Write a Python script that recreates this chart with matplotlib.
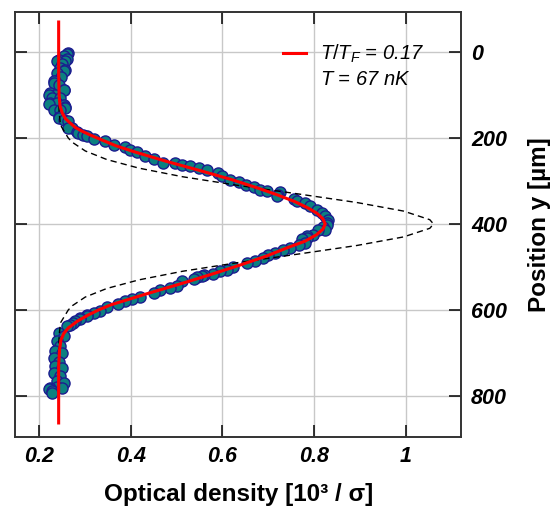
import numpy as np
import matplotlib
matplotlib.use('Agg')
import matplotlib.pyplot as plt
from matplotlib.lines import Line2D

plt.rcParams['font.family'] = ['Liberation Sans', 'DejaVu Sans']
plt.rcParams['mathtext.fontset'] = 'custom'
plt.rcParams['mathtext.it'] = 'Liberation Sans:italic'
plt.rcParams['mathtext.rm'] = 'Liberation Sans'

# measured points: position y [um] and optical density
pos_data = [2, 4, 10, 16, 18, 20, 20, 27, 37, 41, 45, 49, 57, 68, 68, 72, 76, 88, 89,
            95, 99, 99, 107, 107, 119, 119, 120, 123, 128, 130, 134, 134, 150, 154,
            157, 161, 177, 177, 185, 188, 192, 195, 202, 208, 216, 221, 227, 233, 241,
            249, 257, 258, 262, 266, 270, 274, 281, 289, 297, 302, 309, 314, 320, 324,
            326, 332, 336, 342, 347, 351, 359, 367, 374, 382, 390, 398, 402, 406, 413,
            413, 425, 429, 433, 435, 444, 448, 456, 460, 467, 471, 479, 487, 491, 499,
            506, 510, 516, 518, 520, 523, 528, 533, 545, 549, 553, 560, 570, 574, 580,
            585, 592, 603, 607, 611, 615, 619, 621, 626, 630, 634, 638, 654, 661, 673,
            685, 696, 700, 712, 720, 731, 735, 747, 754, 766, 770, 779, 781, 781, 785,
            789, 793]
od_data = [0.264, 0.262, 0.254, 0.261, 0.243, 0.257, 0.239, 0.250, 0.246, 0.257, 0.254,
           0.239, 0.248, 0.236, 0.232, 0.232, 0.243, 0.254, 0.254, 0.225, 0.236, 0.221,
           0.228, 0.246, 0.225, 0.239, 0.221, 0.254, 0.257, 0.257, 0.232, 0.246, 0.243,
           0.243, 0.254, 0.264, 0.272, 0.264, 0.283, 0.286, 0.297, 0.305, 0.319, 0.344,
           0.363, 0.388, 0.399, 0.413, 0.432, 0.450, 0.471, 0.497, 0.512, 0.530, 0.548,
           0.566, 0.591, 0.599, 0.617, 0.637, 0.652, 0.669, 0.682, 0.697, 0.726, 0.721,
           0.719, 0.755, 0.762, 0.780, 0.791, 0.806, 0.817, 0.824, 0.831, 0.827, 0.827,
           0.820, 0.824, 0.809, 0.798, 0.784, 0.784, 0.773, 0.780, 0.766, 0.747, 0.733,
           0.715, 0.700, 0.689, 0.671, 0.653, 0.624, 0.610, 0.595, 0.580, 0.559, 0.555,
           0.544, 0.537, 0.512, 0.501, 0.486, 0.464, 0.450, 0.421, 0.403, 0.388, 0.373,
           0.348, 0.334, 0.319, 0.305, 0.305, 0.290, 0.290, 0.279, 0.275, 0.268, 0.261,
           0.243, 0.254, 0.239, 0.246, 0.236, 0.250, 0.232, 0.243, 0.236, 0.250, 0.232,
           0.246, 0.239, 0.254, 0.239, 0.225, 0.250, 0.221, 0.228, 0.228]

# fitted profile (red)
pos_fit = [-70, 0, 50, 100, 125, 142, 155, 165, 175, 183, 193, 204, 218, 231, 254, 275,
           297, 316, 332, 348, 363, 375, 388, 400, 412, 425, 440, 455, 475, 495, 514,
           530, 541, 564, 588, 600, 612, 626, 642, 655, 670, 692, 730, 863]
od_fit = [0.243, 0.243, 0.243, 0.244, 0.246, 0.251, 0.258, 0.268, 0.279, 0.292, 0.312,
          0.336, 0.368, 0.405, 0.477, 0.549, 0.621, 0.676, 0.719, 0.758, 0.787, 0.806,
          0.819, 0.824, 0.819, 0.805, 0.780, 0.742, 0.695, 0.640, 0.585, 0.537, 0.503,
          0.430, 0.357, 0.330, 0.307, 0.284, 0.264, 0.254, 0.248, 0.245, 0.243, 0.243]

# gaussian profile (dashed)
pos_gauss = [100, 140, 170, 200, 210, 230, 250, 270, 290, 310, 330, 350, 370, 390, 400,
             410, 430, 450, 470, 490, 510, 530, 550, 570, 590, 600, 630, 660, 700]
od_gauss = [0.243, 0.244, 0.247, 0.264, 0.273, 0.301, 0.348, 0.418, 0.513, 0.633, 0.765,
            0.893, 0.995, 1.052, 1.060, 1.052, 0.995, 0.893, 0.765, 0.633, 0.513, 0.418,
            0.348, 0.301, 0.273, 0.264, 0.247, 0.244, 0.243]

x_ticks = [0.2, 0.4, 0.6, 0.8, 1.0]
x_tick_labels = ['0.2', '0.4', '0.6', '0.8', '1']
y_ticks = [0, 200, 400, 600, 800]

fig = plt.figure(figsize=(5.58, 5.09), dpi=100)
ax = fig.add_axes([0.027, 0.142, 0.8, 0.835])

ax.grid(True, color='#c8c8c8', linewidth=1.0, zorder=0)
ax.scatter(od_data, pos_data, s=64, facecolor='#0b8080', edgecolor='#1c1c90',
           linewidth=1.0, zorder=3)
ax.plot(od_gauss, pos_gauss, color='black', linestyle=(0, (4.5, 3)), linewidth=1.0, zorder=4)
ax.plot(od_fit, pos_fit, color='#ff0000', linewidth=2.2, zorder=5)

ax.set_xlim(0.148, 1.121)
ax.set_ylim(895, -94)
ax.set_xticks(x_ticks)
ax.set_xticklabels(x_tick_labels)
ax.set_yticks(y_ticks)

ax.tick_params(axis='x', direction='in', top=True, bottom=True, length=8.5, width=1.1,
               pad=7, labelsize=15.5)
ax.tick_params(axis='y', direction='in', left=True, right=True, labelleft=False,
               labelright=True, length=8.5, width=1.1, pad=7, labelsize=15.5)
for lab in ax.get_xticklabels() + ax.get_yticklabels():
    lab.set_fontweight('bold')
    lab.set_fontstyle('italic')

for sp in ax.spines.values():
    sp.set_linewidth(1.4)
    sp.set_color('#333333')

ax.set_xlabel('Optical density [10³ / σ]', fontsize=17.5, fontweight='bold', labelpad=11)
ax.yaxis.set_label_position('right')
ax.set_ylabel('Position y [µm]', fontsize=17.5, fontweight='bold', rotation=90, labelpad=15)

handles = [Line2D([], [], color='#ff0000', linewidth=2.2), Line2D([], [], color='none')]
labels = [r'$T/T_F$ = 0.17', r'$T$ = 67 nK']
ax.legend(handles, labels, loc='upper left', bbox_to_anchor=(0.56, 0.97), frameon=False,
          prop={'style': 'italic', 'size': 14.5}, handlelength=1.15, handletextpad=0.7,
          labelspacing=0.25)

fig.savefig('out.png', dpi=100)
